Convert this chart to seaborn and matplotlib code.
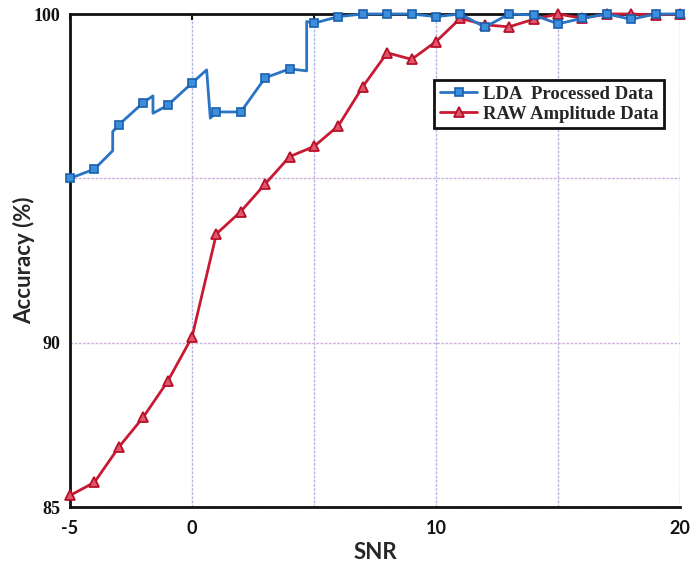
import matplotlib
matplotlib.use("Agg")
import matplotlib.pyplot as plt
import seaborn as sns
import pandas as pd
import numpy as np

# SNR sweep: LDA-processed features (line includes intermediate transition vertices)
lda_snr = [-5, -4, -3.25, -3.25, -3, -2, -1.6, -1.6, -1, 0, 0.6, 0.75, 1, 2, 3, 4, 4.7, 4.7,
           5, 6, 7, 8, 9, 10, 11, 12, 13, 14, 15, 16, 17, 18, 19, 20]
lda_acc = [95.0, 95.28, 95.84, 96.42, 96.63, 97.3, 97.51, 96.98, 97.22, 97.9, 98.3, 96.83,
           97.02, 97.02, 98.06, 98.33, 98.27, 99.77, 99.72, 99.92, 100, 100, 100, 99.92,
           100, 99.6, 100, 99.97, 99.7, 99.87, 100, 99.84, 100, 100]

# SNR sweep: raw amplitude features
raw_snr = list(range(-5, 21))
raw_acc = [85.35, 85.75, 86.82, 87.73, 88.82, 90.17, 93.31, 93.99, 94.83, 95.66, 95.97,
           96.6, 97.79, 98.82, 98.62, 99.16, 99.87, 99.67, 99.61, 99.84, 100.0, 99.87,
           100, 100, 99.97, 100]

x_ticks = [-5, 0, 5, 10, 15, 20]
x_tick_labels = ["-5", "0", "", "10", "", "20"]
y_ticks = [85, 90, 95, 100]
y_tick_labels = ["85", "90", "", "100"]

series_names = ["LDA  Processed Data", "RAW Amplitude Data"]

sns.set_style("white")
plt.rcParams["font.family"] = ["Lato", "DejaVu Sans"]

fig = plt.figure(figsize=(6.91, 5.73), dpi=100)
ax = fig.add_axes([70 / 691, 1 - 507 / 573, 610 / 691, 493 / 573])

lda_df = pd.DataFrame({"snr": lda_snr, "acc": lda_acc})
raw_df = pd.DataFrame({"snr": raw_snr, "acc": raw_acc})

# markers only at the integer SNR steps
lda_marks = [i for i, v in enumerate(lda_snr) if float(v).is_integer() and
             (i == 0 or lda_snr[i - 1] != v)]

blue = "#2a74c4"
red = "#c81a32"

sns.lineplot(data=lda_df, x="snr", y="acc", ax=ax, estimator=None, sort=False,
             color=blue, lw=2.0, marker="s", markersize=6, markevery=lda_marks,
             markerfacecolor="#3d8fdc", markeredgecolor="#1b5fae", markeredgewidth=1.2,
             clip_on=False, zorder=4, label=series_names[0])
sns.lineplot(data=raw_df, x="snr", y="acc", ax=ax, estimator=None, sort=False,
             color=red, lw=2.0, marker="^", markersize=7,
             markerfacecolor="#e0566a", markeredgecolor="#b8102a", markeredgewidth=1.3,
             clip_on=False, zorder=3, label=series_names[1])

ax.set_xlim(-5, 20)
ax.set_ylim(85, 100)
ax.set_xticks(x_ticks)
ax.set_xticklabels(x_tick_labels, fontsize=13, fontweight="bold", family=["Lato", "DejaVu Sans"])
ax.set_yticks(y_ticks)
ax.set_yticklabels(y_tick_labels, fontsize=13, fontweight="bold",
                   family=["Liberation Serif", "DejaVu Serif"])
ax.tick_params(axis="both", direction="in", length=4, width=1.5, colors="#111111",
               top=True, pad=7)
ax.tick_params(axis="x", pad=9)

ax.xaxis.grid(True, color="#b3b6e0", lw=1.0, linestyle=(0, (2, 1)))
ax.yaxis.grid(True, color="#d0b0dc", lw=1.0, linestyle=(0, (2, 1)))
ax.set_axisbelow(True)

for side in ["left", "bottom", "top"]:
    ax.spines[side].set_color("#111111")
    ax.spines[side].set_linewidth(2.0)
ax.spines["right"].set_visible(False)

ax.set_xlabel("SNR", fontsize=16, fontweight="bold", labelpad=4)
ax.set_ylabel("Accuracy (%)", fontsize=16, fontweight="bold", labelpad=-1)

leg = ax.legend(loc="upper left", bbox_to_anchor=(0.597, 0.866), frameon=True,
                fancybox=False, handlelength=2.0, handletextpad=0.3, borderpad=0.3,
                labelspacing=0.15, borderaxespad=0,
                prop={"family": ["Liberation Serif", "DejaVu Serif"], "weight": "bold",
                      "size": 13.5})
leg.get_frame().set_edgecolor("#111111")
leg.get_frame().set_linewidth(2.0)
leg.get_frame().set_alpha(1)

fig.savefig("out.png", dpi=100)
